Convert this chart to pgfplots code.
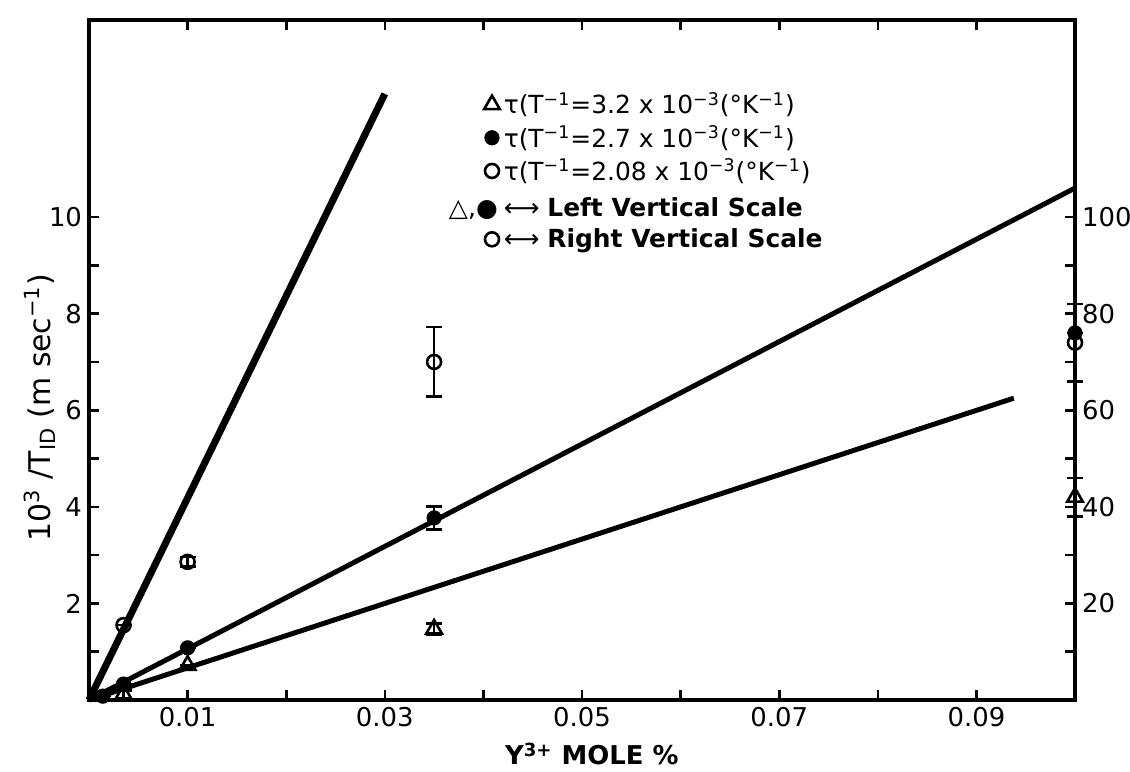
\documentclass[border=0pt]{standalone}
\usepackage{pgfplots}
\pgfplotsset{compat=1.18}
\usepackage{fontspec}
\setmainfont{DejaVu Sans}
\begin{document}
\begin{tikzpicture}
\pgfplotsset{
  base/.style={
    scale only axis, width=493bp, height=340bp,
    xmin=0, xmax=0.1, clip=false,
    axis line style={line width=1.6bp},
    every tick/.style={line width=1.3bp, black},
    major tick length=5bp, minor tick length=5bp,
    tick align=inside,
    /pgf/number format/assume math mode=true,
    ticklabel style={font=\fontsize{13}{15}\selectfont},
    scaled x ticks=false,
  },
  ebar/.style={error bars/.cd, y dir=both, y explicit,
    error bar style={line width=1.3bp},
    error mark options={rotate=90, mark size=4bp, line width=1.3bp}},
}
\begin{axis}[base, name=main,
  ymin=0, ymax=14.08,
  xtick={0.01,0.03,0.05,0.07,0.09},
  xticklabels={0.01,0.03,0.05,0.07,0.09},
  minor xtick={0.02,0.04,0.06,0.08},
  ytick={2,4,6,8,10}, minor ytick={1,3,5,7,9},
  ytick pos=left,
  xlabel={\textbf{Y\textsuperscript{3+} MOLE \%}},
  xlabel style={at={(axis description cs:0.51,0)}, anchor=center, yshift=-27bp, font=\fontsize{13}{15}\selectfont},
  ylabel={10\textsuperscript{3} /T\textsubscript{ID} (m sec\textsuperscript{−1})},
  ylabel style={at={(axis description cs:-0.0497,0.43)}, anchor=center, font=\fontsize{15}{17}\selectfont},
  legend style={draw=none, fill=none, at={(0.385,0.906)}, anchor=north west,
    font=\fontsize{12.5}{15}\selectfont, row sep=0.3bp},
  legend cell align=left,
]
\addplot[black, line width=3.5bp, forget plot] coordinates {(0,0) (0.03,12.55)};
\addplot[black, line width=2.5bp, forget plot] coordinates {(0,0) (0.1,10.6)};
\addplot[black, line width=2.5bp, forget plot] coordinates {(0,0) (0.0938,6.25)};
\addplot[black, only marks, mark=triangle, mark size=4.5bp, mark options={line width=1.3bp, fill=white}, ebar]
  table[y error=e] {
  x y e
  0.0035 0.12 0.08
  0.01 0.72 0.0
  0.035 1.47 0.12
  0.1 4.2 0.4
  };
\addlegendentry{τ(T\textsuperscript{−1}=3.2 x 10\textsuperscript{−3}(°K\textsuperscript{−1})}
\addplot[black, only marks, mark=*, mark size=3.6bp, ebar]
  table[y error=e] {
  x y e
  0.0014 0.08 0.0
  0.0035 0.33 0.0
  0.01 1.08 0.0
  0.035 3.77 0.24
  0.1 7.6 0.0
  };
\addlegendentry{τ(T\textsuperscript{−1}=2.7 x 10\textsuperscript{−3}(°K\textsuperscript{−1})}
\addlegendimage{black, only marks, mark=o, mark size=3.5bp, mark options={line width=1.3bp}}
\addlegendentry{τ(T\textsuperscript{−1}=2.08 x 10\textsuperscript{−3}(°K\textsuperscript{−1})}
\addlegendimage{empty legend}
\addlegendentry{\rule{0pt}{12.5bp}\llap{△,●\hspace{3bp}}⟷ \textbf{Left Vertical Scale}}
\addlegendimage{black, only marks, mark=o, mark size=3.5bp, mark options={line width=1.3bp}}
\addlegendentry{⟷ \textbf{Right Vertical Scale}}
\end{axis}
\begin{axis}[base,
  ymin=0, ymax=140.8,
  axis y line*=right, axis x line=none,
  ytick={20,40,60,80,100}, minor ytick={10,30,50,70,90},
]
\addplot[black, only marks, mark=o, mark size=3.5bp, mark options={line width=1.3bp, fill=white}, ebar]
  table[y error=e] {
  x y e
  0.0035 15.5 0.0
  0.01 28.6 1.0
  0.035 70.0 7.2
  0.1 74.0 8.0
  };
\end{axis}
\pgfresetboundingbox
\path[use as bounding box] ([xshift=-44.5bp,yshift=-36bp]main.south west) rectangle ([xshift=27.5bp,yshift=10bp]main.north east);
\end{tikzpicture}
\end{document}
